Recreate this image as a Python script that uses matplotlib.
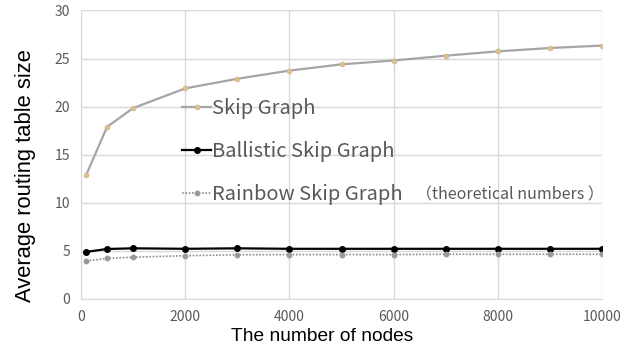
import matplotlib
matplotlib.use("Agg")
import matplotlib.pyplot as plt

plt.rcParams['font.family'] = ['Noto Sans CJK JP', 'DejaVu Sans']

nodes = [100, 500, 1000, 2000, 3000, 4000, 5000, 6000, 7000, 8000, 9000, 10000]
skip_graph = [12.9, 17.9, 19.85, 21.9, 22.9, 23.75, 24.4, 24.8, 25.3, 25.75, 26.1, 26.35]
ballistic = [4.9, 5.2, 5.27, 5.22, 5.27, 5.22, 5.22, 5.22, 5.22, 5.22, 5.22, 5.22]
rainbow = [3.95, 4.22, 4.35, 4.5, 4.6, 4.62, 4.62, 4.62, 4.65, 4.65, 4.65, 4.65]

labels = ["Skip Graph", "Ballistic Skip Graph", "Rainbow Skip Graph"]
note = "（theoretical numbers ）"
xticks = [0, 2000, 4000, 6000, 8000, 10000]
yticks = [0, 5, 10, 15, 20, 25, 30]

fig = plt.figure(figsize=(6.36, 3.53), dpi=100)
ax = fig.add_axes([81/636, 1-299/353, (602-81)/636, (299-10.5)/353])

ax.plot(nodes, skip_graph, color='#A5A5A5', lw=1.6, marker='o', ms=3.5,
        mfc='#E0C38C', mec='#C9B48A', mew=0.5, label=labels[0])
ax.plot(nodes, ballistic, color='#000000', lw=1.6, marker='o', ms=4,
        mfc='#000000', mec='#000000', label=labels[1])
ax.plot(nodes, rainbow, color='#8C8C8C', lw=1.2, ls=(0, (1, 1)), marker='o', ms=3.2,
        mfc='#9A9A9A', mec='#9A9A9A', label=labels[2])

ax.set_xlim(0, 10000)
ax.set_ylim(0, 30)
ax.set_xticks(xticks)
ax.set_yticks(yticks)
ax.grid(True, color='#D9D9D9', lw=1)
ax.set_axisbelow(True)
for s in ['top', 'right']:
    ax.spines[s].set_visible(False)
for s in ['left', 'bottom']:
    ax.spines[s].set_color('#D9D9D9')
ax.tick_params(length=0, labelsize=10, labelcolor='#595959', pad=8)

ax.set_xlabel("The number of nodes", fontsize=13.8, color='#000000',
              family=['Liberation Sans', 'DejaVu Sans'])
ax.set_ylabel("Average routing table size", fontsize=15.8, color='#000000',
              family=['Liberation Sans', 'DejaVu Sans'])
ax.xaxis.set_label_coords((322-81)/521, -(328-299)/288.5)
ax.yaxis.set_label_coords(-(81-36)/521, (299-176)/288.5)

leg = ax.legend(loc='upper left', bbox_to_anchor=((182-81)/521, 1-(98-10.5)/288.5),
                frameon=False, fontsize=14.5, handlelength=1.45, handletextpad=0.05,
                labelspacing=1.1, borderpad=0, borderaxespad=0)
for t in leg.get_texts():
    t.set_color('#595959')

fig.canvas.draw()
bb = leg.get_texts()[2].get_window_extent()
fig.text(bb.x1 / fig.bbox.width + 0.02, (bb.y0 + bb.y1) / 2 / fig.bbox.height, note,
         fontsize=11.5, color='#595959', va='center', ha='left')

fig.savefig("out.png", dpi=100)
